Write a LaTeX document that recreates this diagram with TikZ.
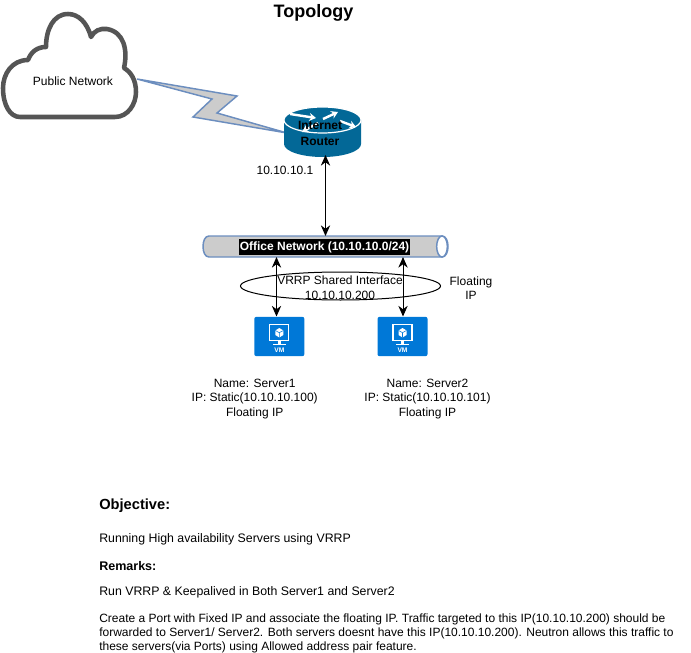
\documentclass[tikz,border=0pt]{standalone}
\usepackage{fontspec}
\setmainfont{Liberation Sans}
\usetikzlibrary{arrows.meta,shapes.geometric}
\definecolor{pipeline}{HTML}{6C8EBF}
\definecolor{pipefill}{HTML}{CCCCCC}
\definecolor{routerblue}{HTML}{036897}
\definecolor{vmblue}{HTML}{0078D7}
\definecolor{cloudgrey}{HTML}{555555}
\tikzset{
	lbl/.style={font=\fontsize{9}{11}\selectfont, align=center, inner sep=0pt},
	lblbold/.style={lbl, font=\fontsize{9}{12}\selectfont\bfseries},
	para/.style={font=\fontsize{9}{11}\selectfont, anchor=west, inner sep=0pt},
	paralarge/.style={para, font=\fontsize{9.25}{11}\selectfont},
	link/.style={line width=0.75pt, {Stealth[length=8pt,width=7pt]}-{Stealth[length=8pt,width=7pt]}},
	vmbox/.style={fill=vmblue, rounded corners=1.5pt, minimum width=37.5pt, minimum height=29.5pt, inner sep=0pt},
	routerarrow/.style={white, line width=1.8pt, -{Stealth[length=5pt,width=6pt]}},
}
\def\vmicon#1(#2,#3){
	\node[vmbox] (#1) at (#2,#3) {};
	\begin{scope}[shift={(#2,#3)}]
		\draw[white, line width=1pt] (-9.5,-12) rectangle (9.5,4);
		\fill[white] (-1.5,4) rectangle (1.5,8);
		\fill[white] (-6.5,7) rectangle (6.5,8.5);
		\fill[white] (0,-8.5) -- (4,-6) -- (4,-1.5) -- (0,1) -- (-4,-1.5) -- (-4,-6) -- cycle;
		\draw[vmblue, line width=0.4pt] (-4,-6) -- (0,-3.8) -- (4,-6) (0,-3.8) -- (0,1);
		\node[inner sep=0pt, white, font=\fontsize{5}{6}\selectfont\bfseries] (#1text) at (0,14) {VM};
	\end{scope}
}

\begin{document}
\begin{tikzpicture}[x=0.75pt, y=-0.75pt]
	\useasboundingbox (0,0) rectangle (691,652);

	\node[font=\fontsize{13.5}{16}\selectfont\bfseries, inner sep=0pt] (title) at (313.5,12.5) {Topology};

	% cloud
	\draw[cloudgrey, line width=3.4pt, fill=white, line join=round] (20,117) -- (115,117)
		.. controls (128,117) and (136,104) .. (136,92)
		.. controls (136,80) and (131,72) .. (124,68)
		.. controls (128,50) and (124,32) .. (107,29)
		.. controls (100,28) and (94,31) .. (91,37)
		.. controls (87,22) and (78,14) .. (68,14)
		.. controls (53,14) and (46,30) .. (46,47)
		.. controls (37,47) and (31,52) .. (28,60)
		.. controls (12,60) and (3,74) .. (3,88)
		.. controls (3,105) and (10,117) .. (20,117) -- cycle;
	\node[lbl] (public) at (73,81) {Public Network};

	% lightning
	\draw[pipeline, line width=1.1pt, fill=pipefill, line join=miter] (137,79) -- (237,96) -- (217,113) -- (287,133) -- (193,117) -- (212,99) -- cycle;

	% router
	\fill[routerblue] (284,120) -- (284,144) arc (180:360:28.9pt and 9.75pt) -- (361,120) -- cycle;
	\draw[white, line width=0.9pt, fill=routerblue] (322.5,120) ellipse (28.9pt and 9.75pt);
	\draw[routerarrow] (290,114) -- (316,118);
	\draw[routerarrow] (323,119) -- (338,112);
	\draw[routerarrow] (318,123) -- (302,132);
	\draw[routerarrow] (340,121) -- (356,127);
	\node[lblbold] (router) at (320,133) {Internet\\Router};
	\node[lbl] (routerip) at (285,170) {10.10.10.1};

	% office network
	\draw[pipeline, line width=1.1pt, fill=pipefill] (209,236)
		.. controls (205,236) and (203,241) .. (203,246.5)
		.. controls (203,252) and (205,257) .. (209,257) -- (442,257)
		.. controls (446,257) and (448,252) .. (448,246.5)
		.. controls (448,241) and (446,236) .. (442,236) -- cycle;
	\draw[pipeline, line width=1.1pt, fill=white] (442,246.5) ellipse (4pt and 7.9pt);
	\node[lblbold, fill=black, text=white, minimum width=128pt, minimum height=12pt] (office) at (324.5,247) {Office Network (10.10.10.0/24)};

	\node[ellipse, draw, line width=0.75pt, minimum width=150pt, minimum height=21pt, inner sep=0pt] (vrrp) at (340.5,286) {};
	\node[lbl] (vrrptext) at (340,288) {VRRP Shared Interface\\10.10.10.200};
	\node[lbl] (floating) at (471,288) {Floating\\IP};

	\vmicon{vma}(279.3,336.5)
	\vmicon{vmb}(402.5,336.5)

	\coordinate (routerport) at (325.5,155);
	\coordinate (officetop) at (325.5,236);
	\coordinate (officea) at (276.5,257);
	\coordinate (officeb) at (403,257);
	\coordinate (vmaport) at (276.5,316.5);
	\coordinate (vmbport) at (403,316.5);
	\draw[link] (routerport) -- (officetop);
	\draw[link] (officea) -- (vmaport);
	\draw[link] (officeb) -- (vmbport);

	\node[lbl] (servera) at (254.7,399) {Name: Server1\\IP: Static(10.10.10.100)\\Floating IP};
	\node[lbl] (serverb) at (427.5,399) {Name: Server2\\IP: Static(10.10.10.101)\\Floating IP};

	% notes
	\node[para, font=\fontsize{11}{13}\selectfont\bfseries] (objective) at (99,506) {Objective:};
	\node[paralarge] (running) at (99,539.5) {Running High availability Servers using VRRP};
	\node[para, font=\fontsize{9.4}{11}\selectfont\bfseries] (remarks) at (99,566) {Remarks:};
	\node[paralarge] (run) at (99,592) {Run VRRP \& Keepalived in Both Server1 and Server2};
	\node[para] (createa) at (99,619) {Create a Port with Fixed IP and associate the floating IP. Traffic targeted to this IP(10.10.10.200) should be};
	\node[para] (createb) at (99,633) {forwarded to Server1/ Server2. Both servers doesnt have this IP(10.10.10.200). Neutron allows this traffic to};
	\node[para] (createc) at (99,647.5) {these servers(via Ports) using Allowed address pair feature.};
\end{tikzpicture}
\end{document}
